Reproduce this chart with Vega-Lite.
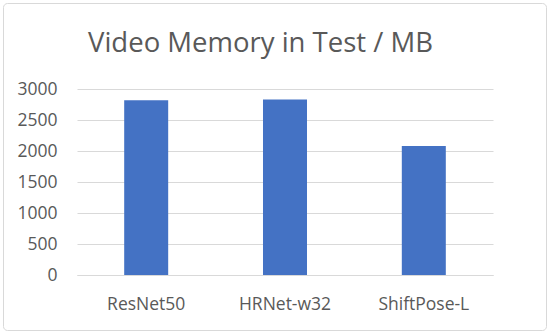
{
  "$schema": "https://vega.github.io/schema/vega-lite/v6.json",
  "width": 543,
  "height": 327,
  "autosize": {"type": "none"},
  "padding": {"left": 3, "top": 3, "right": 4, "bottom": 4},
  "background": "white",
  "config": {"view": {"stroke": "#d9d9d9", "strokeWidth": 1, "cornerRadius": 4}, "font": "Open Sans"},
  "title": {"text": "Video Memory in Test / MB", "fontSize": 27.5, "font": "Open Sans", "fontWeight": "normal", "color": "#595959", "anchor": "middle", "baseline": "alphabetic", "offset": -76, "dx": -14},
  "data": {"values": [
    {"model": "ResNet50", "memory": 2820},
    {"model": "HRNet-w32", "memory": 2830},
    {"model": "ShiftPose-L", "memory": 2080}
  ]},
  "mark": {"type": "bar", "color": "#4472C4"},
  "encoding": {
    "x": {"field": "model", "type": "nominal", "sort": null,
      "scale": {"range": [74, 490], "paddingInner": 0.683, "paddingOuter": 0.34},
      "axis": {"title": null, "labelAngle": 0, "offset": -55, "domainColor": "#d9d9d9", "domainWidth": 1, "ticks": false, "tickSize": 0, "labelPadding": 29, "labelBaseline": "middle", "labelFontSize": 17.5, "labelColor": "#595959", "labelFont": "Open Sans"}},
    "y": {"field": "memory", "type": "quantitative",
      "scale": {"domain": [0, 3000], "range": [272, 86], "nice": false},
      "axis": {"title": null, "values": [0, 500, 1000, 1500, 2000, 2500, 3000], "format": "d", "offset": -74, "domain": false, "ticks": false, "tickSize": 0, "labelPadding": 20, "gridColor": "#d9d9d9", "gridWidth": 1, "gridOpacity": 1, "labelFontSize": 17.5, "labelColor": "#595959", "labelFont": "Open Sans"}}
  }
}
